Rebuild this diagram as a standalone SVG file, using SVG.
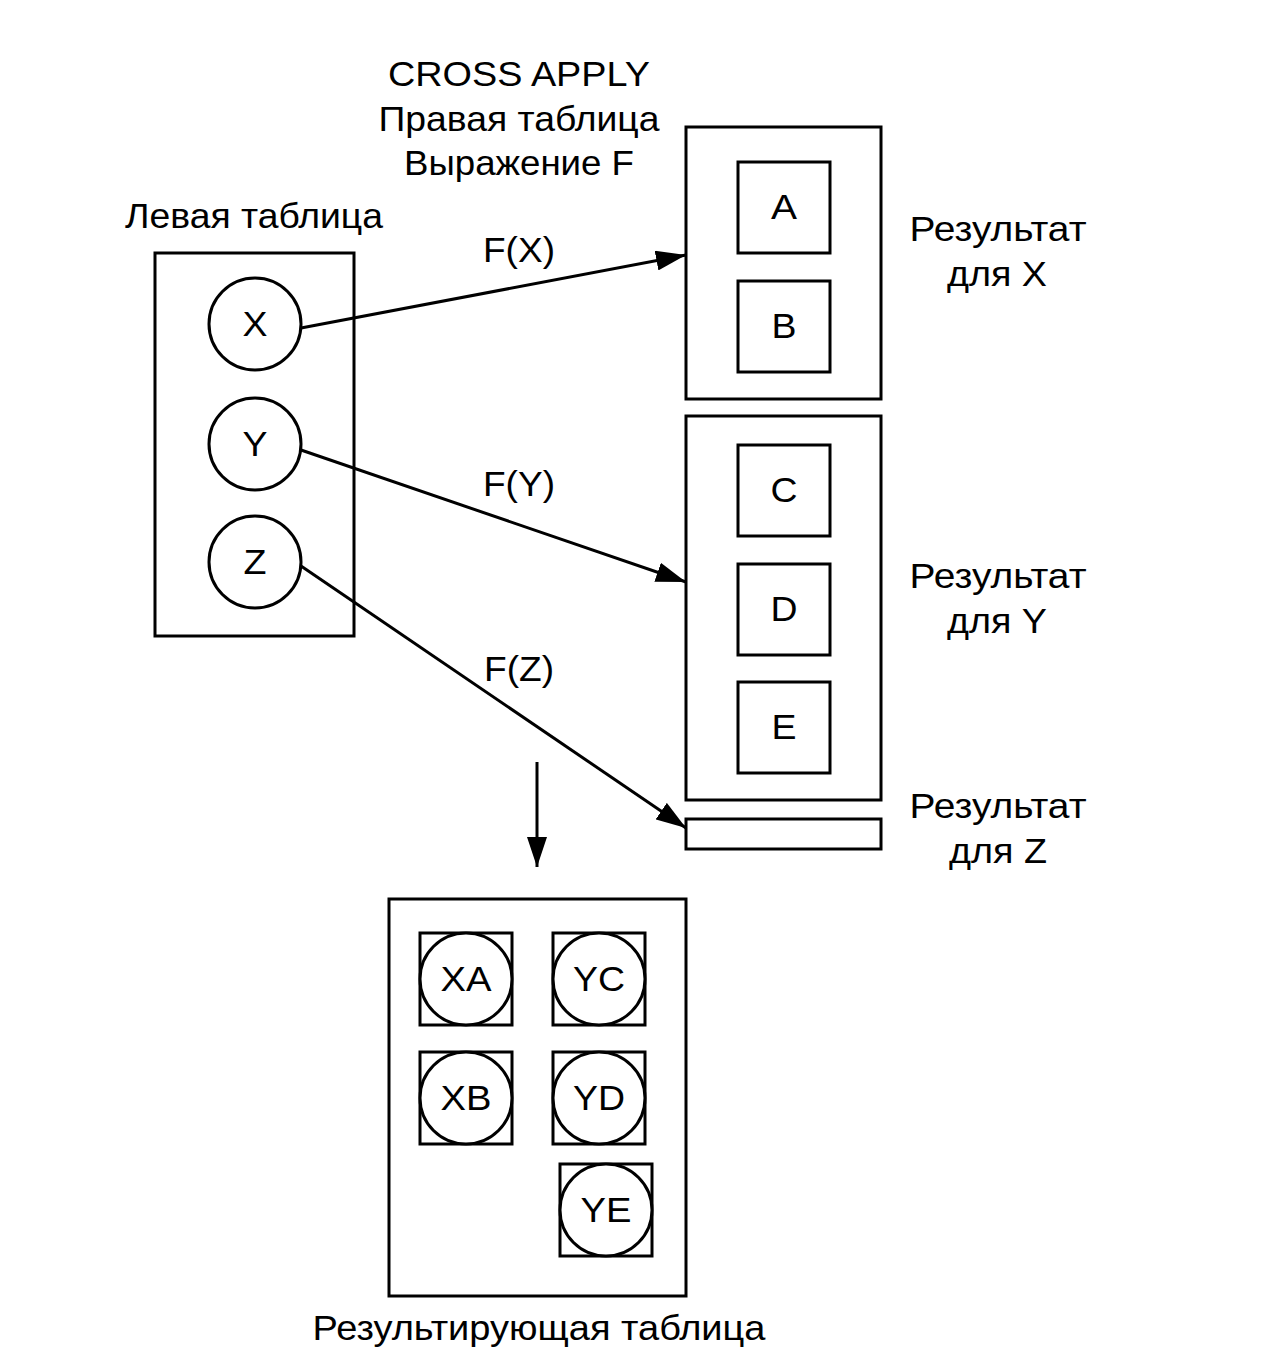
<svg xmlns="http://www.w3.org/2000/svg" width="1280" height="1372" viewBox="0 0 1280 1372">
<style>
  .box { fill: #fff; stroke: #000; stroke-width: 3; }
  .ln { fill: none; stroke: #000; stroke-width: 3; }
  text { font-family: "Liberation Sans", Arial, sans-serif; font-size: 35px; fill: #000; text-anchor: middle; }
</style>
<defs>
  <marker id="arr" viewBox="0 0 30 20" refX="30" refY="10" markerWidth="30" markerHeight="20" markerUnits="userSpaceOnUse" orient="auto">
    <path d="M0,0 L30,10 L0,20 Z" fill="#000"/>
  </marker>
</defs>
<rect width="1280" height="1372" fill="#fff"/>

<g id="labels">
  <text x="519" y="86" textLength="262" lengthAdjust="spacingAndGlyphs">CROSS APPLY</text>
  <text x="519" y="131" textLength="281" lengthAdjust="spacingAndGlyphs">Правая таблица</text>
  <text x="519" y="175" textLength="230" lengthAdjust="spacingAndGlyphs">Выражение F</text>
  <text x="254" y="228" textLength="258" lengthAdjust="spacingAndGlyphs">Левая таблица</text>
  <text x="998" y="241" textLength="177" lengthAdjust="spacingAndGlyphs">Результат</text>
  <text x="997" y="286" textLength="100" lengthAdjust="spacingAndGlyphs">для X</text>
  <text x="998" y="588" textLength="177" lengthAdjust="spacingAndGlyphs">Результат</text>
  <text x="997" y="633" textLength="100" lengthAdjust="spacingAndGlyphs">для Y</text>
  <text x="998" y="818" textLength="177" lengthAdjust="spacingAndGlyphs">Результат</text>
  <text x="998" y="863" textLength="98" lengthAdjust="spacingAndGlyphs">для Z</text>
  <text x="539" y="1340" textLength="453" lengthAdjust="spacingAndGlyphs">Результирующая таблица</text>
</g>

<g id="left-table">
  <rect class="box" x="155" y="253" width="199" height="383"/>
</g>
<g id="node-X"><circle class="box" cx="255" cy="324" r="46"/><text x="255" y="336" textLength="25" lengthAdjust="spacingAndGlyphs">X</text></g>
<g id="node-Y"><circle class="box" cx="255" cy="444" r="46"/><text x="255" y="456" textLength="25" lengthAdjust="spacingAndGlyphs">Y</text></g>
<g id="node-Z"><circle class="box" cx="255" cy="562" r="46"/><text x="255" y="574" textLength="23" lengthAdjust="spacingAndGlyphs">Z</text></g>

<g id="result-X"><rect class="box" x="686" y="127" width="195" height="272"/></g>
<g id="node-A"><rect class="box" x="738" y="162" width="92" height="91"/><text x="784" y="219" textLength="26" lengthAdjust="spacingAndGlyphs">A</text></g>
<g id="node-B"><rect class="box" x="738" y="281" width="92" height="91"/><text x="784" y="338" textLength="25" lengthAdjust="spacingAndGlyphs">B</text></g>

<g id="result-Y"><rect class="box" x="686" y="416" width="195" height="384"/></g>
<g id="node-C"><rect class="box" x="738" y="445" width="92" height="91"/><text x="784" y="502" textLength="27" lengthAdjust="spacingAndGlyphs">C</text></g>
<g id="node-D"><rect class="box" x="738" y="564" width="92" height="91"/><text x="784" y="621" textLength="27" lengthAdjust="spacingAndGlyphs">D</text></g>
<g id="node-E"><rect class="box" x="738" y="682" width="92" height="91"/><text x="784" y="739" textLength="25" lengthAdjust="spacingAndGlyphs">E</text></g>

<g id="result-Z"><rect class="box" x="686" y="819" width="195" height="30"/></g>

<g id="result-table"><rect class="box" x="389" y="899" width="297" height="397"/></g>
<g id="node-XA"><rect class="box" x="420" y="933" width="92" height="92"/><circle class="box" cx="466" cy="979" r="46"/><text x="466" y="991" textLength="51" lengthAdjust="spacingAndGlyphs">XA</text></g>
<g id="node-YC"><rect class="box" x="553" y="933" width="92" height="92"/><circle class="box" cx="599" cy="979" r="46"/><text x="599" y="991" textLength="52" lengthAdjust="spacingAndGlyphs">YC</text></g>
<g id="node-XB"><rect class="box" x="420" y="1052" width="92" height="92"/><circle class="box" cx="466" cy="1098" r="46"/><text x="466" y="1110" textLength="51" lengthAdjust="spacingAndGlyphs">XB</text></g>
<g id="node-YD"><rect class="box" x="553" y="1052" width="92" height="92"/><circle class="box" cx="599" cy="1098" r="46"/><text x="599" y="1110" textLength="52" lengthAdjust="spacingAndGlyphs">YD</text></g>
<g id="node-YE"><rect class="box" x="560" y="1164" width="92" height="92"/><circle class="box" cx="606" cy="1210" r="46"/><text x="606" y="1222" textLength="51" lengthAdjust="spacingAndGlyphs">YE</text></g>

<g id="connectors">
  <line class="ln" x1="301" y1="328" x2="686" y2="255" marker-end="url(#arr)"/>
  <line class="ln" x1="301" y1="450" x2="686" y2="582" marker-end="url(#arr)"/>
  <line class="ln" x1="301" y1="566" x2="686" y2="828" marker-end="url(#arr)"/>
  <line class="ln" x1="537" y1="762" x2="537" y2="867" marker-end="url(#arr)"/>
  <text x="519" y="262" textLength="72" lengthAdjust="spacingAndGlyphs">F(X)</text>
  <text x="519" y="496" textLength="72" lengthAdjust="spacingAndGlyphs">F(Y)</text>
  <text x="519" y="681" textLength="70" lengthAdjust="spacingAndGlyphs">F(Z)</text>
</g>
</svg>
